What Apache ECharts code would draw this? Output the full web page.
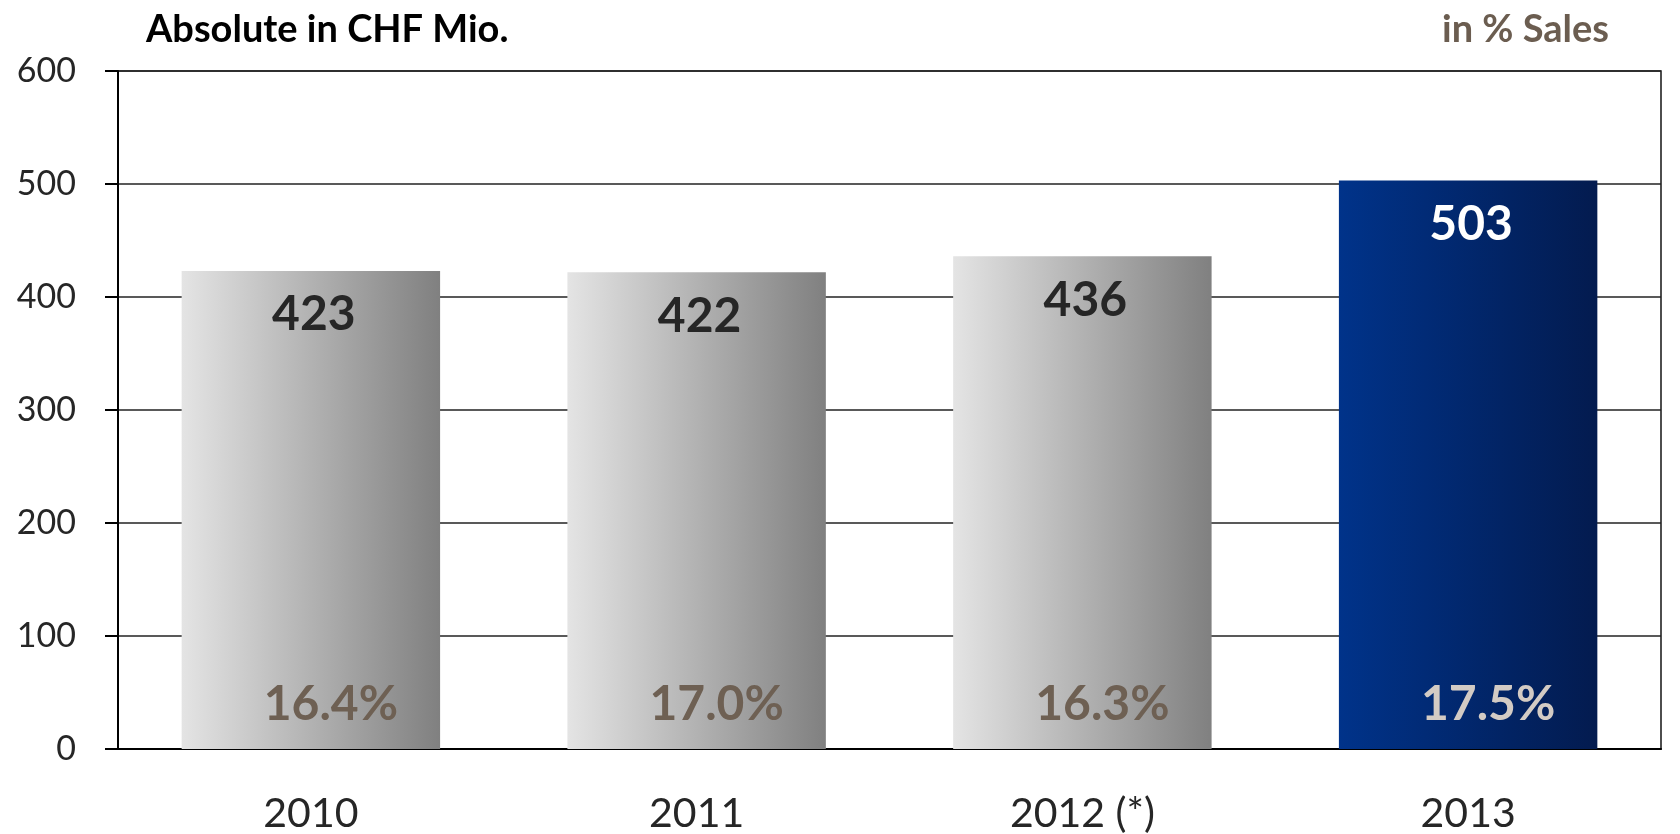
<!DOCTYPE html>
<html>
<head>
<meta charset="utf-8">
<script src="https://cdn.jsdelivr.net/npm/echarts@6/dist/echarts.min.js"></script>
<style>
  html, body { margin: 0; padding: 0; background: #ffffff; }
  #chart { width: 1680px; height: 834px; }
</style>
</head>
<body>
<div id="chart"></div>
<script>
// Absolute values (CHF Mio.) and the share of sales per year
const years = ['2010', '2011', '2012 (*)', '2013'];
const absoluteCHF = [423, 422, 436, 503];
const pctOfSales = [16.4, 17.0, 16.3, 17.5];
const yTicks = [0, 100, 200, 300, 400, 500, 600];
const currentYear = '2013';

const FONT = 'Lato, "Open Sans", sans-serif';
const isCurrent = (i) => years[i] === currentYear;

const grayFill = new echarts.graphic.LinearGradient(0, 0, 1, 0, [
  { offset: 0, color: '#e4e4e4' },
  { offset: 1, color: '#808080' }
]);
const blueFill = new echarts.graphic.LinearGradient(0, 0, 1, 0, [
  { offset: 0, color: '#00338a' },
  { offset: 1, color: '#031b4f' }
]);

const absData = absoluteCHF.map((v, i) => ({
  value: v,
  itemStyle: { color: isCurrent(i) ? blueFill : grayFill },
  label: { color: isCurrent(i) ? '#ffffff' : '#262626' }
}));

const pctData = absoluteCHF.map((v, i) => ({
  value: v,
  label: { color: isCurrent(i) ? '#d3cbc4' : '#6e6053' }
}));

const chart = echarts.init(document.getElementById('chart'), null, { renderer: 'canvas' });

chart.setOption({
  animation: false,
  backgroundColor: '#ffffff',
  title: [
    {
      text: 'Absolute in CHF Mio.',
      left: 141, top: 6,
      textStyle: { fontFamily: FONT, fontWeight: 'bold', fontSize: 38, color: '#000000' }
    },
    {
      text: 'in % Sales',
      right: 66, top: 6,
      textStyle: { fontFamily: FONT, fontWeight: 'bold', fontSize: 38, color: '#6b5d50' }
    }
  ],
  grid: {
    left: 118, right: 19, top: 71, bottom: 84,
    show: true, borderColor: '#222222', borderWidth: 1.6
  },
  xAxis: {
    type: 'category',
    data: years,
    axisLine: { show: true, lineStyle: { color: '#000000', width: 2 } },
    axisTick: { show: false },
    axisLabel: { fontFamily: FONT, fontSize: 41, color: '#262626', margin: 44 }
  },
  yAxis: {
    type: 'value',
    min: yTicks[0],
    max: yTicks[yTicks.length - 1],
    interval: yTicks[1] - yTicks[0],
    axisLine: { show: true, lineStyle: { color: '#000000', width: 2 } },
    axisTick: { show: true, inside: false, length: 13, lineStyle: { color: '#000000', width: 2 } },
    axisLabel: { fontFamily: FONT, fontSize: 34, color: '#262626', margin: 42 },
    splitLine: { show: true, lineStyle: { color: '#222222', width: 1.6 } }
  },
  series: [
    {
      name: 'Absolute in CHF Mio.',
      type: 'bar',
      barWidth: '67%',
      data: absData,
      z: 2,
      label: {
        show: true,
        position: 'insideTop',
        distance: 20,
        offset: [3, 0],
        fontFamily: FONT,
        fontWeight: 'bold',
        fontSize: 48
      }
    },
    {
      name: 'in % Sales',
      type: 'bar',
      barWidth: '67%',
      barGap: '-100%',
      data: pctData,
      z: 3,
      itemStyle: { color: 'rgba(0,0,0,0)' },
      label: {
        show: true,
        position: 'insideBottom',
        distance: 20,
        offset: [20, 0],
        fontFamily: FONT,
        fontWeight: 'bold',
        fontSize: 48,
        formatter: (p) => pctOfSales[p.dataIndex].toFixed(1) + '%'
      }
    }
  ]
});
</script>
</body>
</html>
